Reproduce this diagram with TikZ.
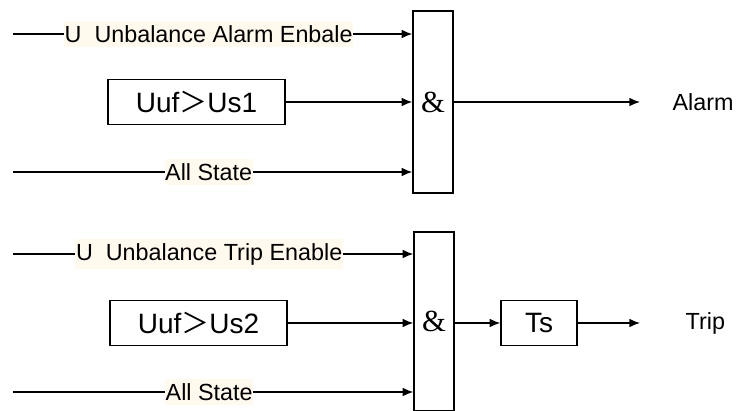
\documentclass[tikz,border=0pt]{standalone}
\usepackage{fontspec}
\setmainfont{Liberation Sans}
\newfontfamily\serifamp{Liberation Serif}
\newfontfamily\cjk{Noto Sans CJK SC}
\usetikzlibrary{arrows.meta}
\definecolor{labelbg}{HTML}{FFF9EE}

\begin{document}
\begin{tikzpicture}[x=0.75pt,y=-0.75pt,line width=1pt,>={Latex[length=8pt,width=6.5pt]},
    lbl/.style={fill=labelbg,inner xsep=0.5pt,inner ysep=3pt,font=\fontsize{17.5}{20}\selectfont},
    txt/.style={inner sep=0pt,font=\fontsize{17.5}{20}\selectfont},
    cmp/.style={draw,minimum width=132.75pt,minimum height=34pt,inner sep=0pt,font=\fontsize{21}{24}\selectfont},
    andgate/.style={draw,minimum width=30pt,inner sep=0pt,font=\serifamp\fontsize{23}{26}\selectfont}]
    \path [use as bounding box] (0,0) rectangle (737,410);
    % alarm part
    \node [andgate,minimum height=136.5pt] (and1) at (433,102) {\&};
    \node [cmp] (cmp1) at (196.5,102) {Uuf{\cjk ＞}Us1};
    \coordinate (en1) at (13,34);
    \coordinate (st1) at (13,172);
    \coordinate (out1) at (640,102);
    \node [txt,anchor=west] (alarm) at (672,102) {Alarm};
    \draw[->] (en1) -- node[lbl,pos=0.49] (en1lbl) {U\ \ Unbalance Alarm Enbale} (en1 -| and1.west);
    \draw[->] (cmp1) -- (cmp1 -| and1.west);
    \draw[->] (st1) -- node[lbl,pos=0.49] (st1lbl) {All State} (st1 -| and1.west);
    \draw[->] (and1) -- (out1);
    % trip part
    \node [andgate,minimum height=134.25pt] (and2) at (434,321.5) {\&};
    \node [cmp] (cmp2) at (198.5,323) {Uuf{\cjk ＞}Us2};
    \node [draw,minimum width=57pt,minimum height=34pt,inner sep=0pt,font=\fontsize{21}{24}\selectfont] (ts) at (539,323) {Ts};
    \coordinate (en2) at (13,254);
    \coordinate (st2) at (13,392);
    \coordinate (out2) at (640,323);
    \node [txt,anchor=west] (trip) at (685,323) {Trip};
    \draw[->] (en2) -- node[lbl,pos=0.49] (en2lbl) {U\ \ Unbalance Trip Enable} (en2 -| and2.west);
    \draw[->] (cmp2) -- (cmp2 -| and2.west);
    \draw[->] (st2) -- node[lbl,pos=0.49] (st2lbl) {All State} (st2 -| and2.west);
    \draw[->] (and2.east |- ts) -- (ts);
    \draw[->] (ts) -- (out2);
\end{tikzpicture}
\end{document}
